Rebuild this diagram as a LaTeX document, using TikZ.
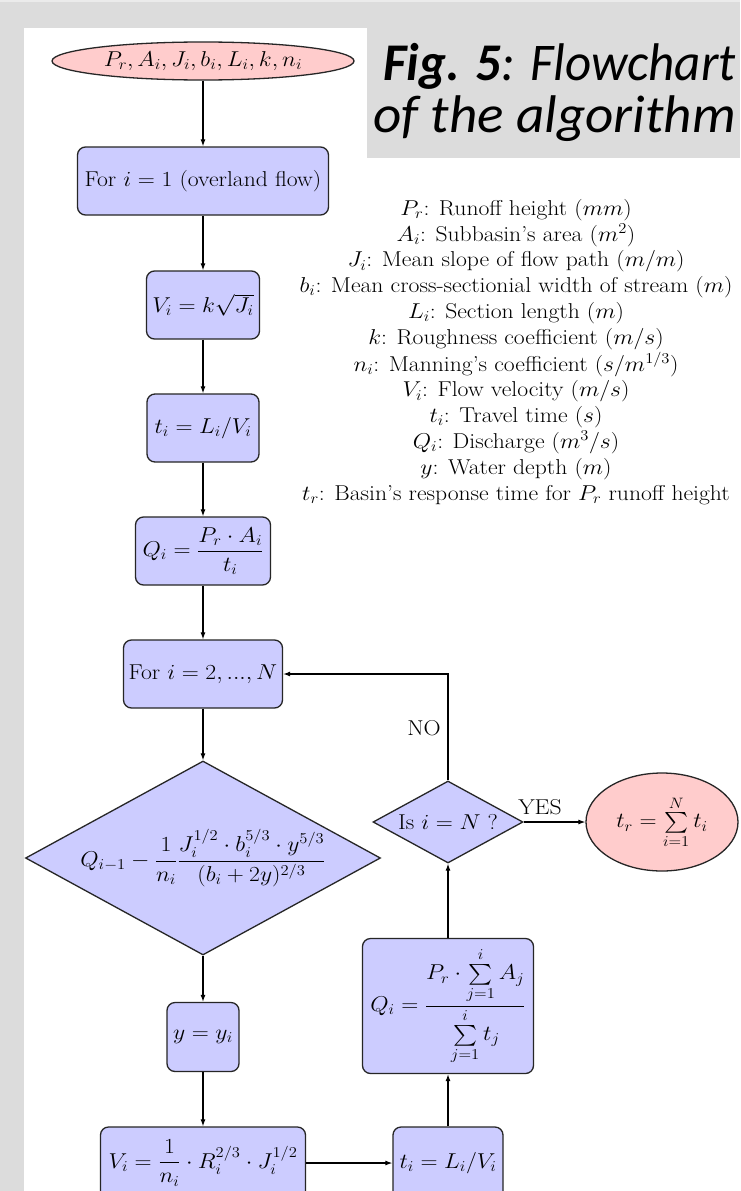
\documentclass[tikz,border=0pt]{standalone}
\usepackage{fix-cm}
\usepackage{amsmath}
\usepackage{fontspec}
\newfontfamily\calibri{Carlito}
\usetikzlibrary{shapes.geometric,arrows.meta}
\definecolor{bggrey}{HTML}{DCDCDC}
\definecolor{topgrey}{HTML}{EBEBEB}
\definecolor{boxblue}{HTML}{CCCCFF}
\definecolor{boxpink}{HTML}{FFCCCC}
\newcommand{\hx}[1]{\scalebox{1.1}[1]{#1}}
\begin{document}
\begin{tikzpicture}[x=1pt,y=-1pt,
  every node/.style={font=\fontsize{21.5}{25.8}\selectfont},
  procbox/.style={draw=black!85, line width=1.3pt, fill=boxblue, rounded corners=8pt, inner sep=2pt, align=center},
  termshape/.style={draw=black!85, line width=1.3pt, fill=boxpink, ellipse, inner sep=0pt},
  decshape/.style={draw=black!85, line width=1.3pt, fill=boxblue, diamond, inner sep=0pt},
  flow/.style={-{Latex[length=7pt,width=5pt]}, line width=1.1pt},
  titlefont/.style={font=\calibri\fontsize{53}{56}\selectfont},
]
\useasboundingbox (0,0) rectangle (740,1191);
\clip (0,0) rectangle (740,1191);
\fill[bggrey] (0,0) rectangle (740,1191);
\fill[topgrey] (0,0) rectangle (740,2);
\fill[white] (24,28) rectangle (740,1191);
\fill[bggrey] (367,2) rectangle (740,158);

% title
\node[titlefont, anchor=base east, inner sep=0pt] (title1) at (736,80) {\scalebox{0.962}[1]{\textbf{\textit{Fig. 5}}\textit{: Flowchart}}};
\node[titlefont, anchor=base east, inner sep=0pt] (title2) at (736,132) {\scalebox{1.04}[1]{\textit{of the algorithm}}};

% legend
\node[anchor=north, inner sep=0pt] (legend) at (516,197) {\hx{\begin{tabular}{@{}c@{}}
$P_r$: Runoff height ($mm$)\\
$A_i$: Subbasin's area ($m^2$)\\
$J_i$: Mean slope of flow path ($m/m$)\\
$b_i$: Mean cross-sectionial width of stream ($m$)\\
$L_i$: Section length ($m$)\\
$k$: Roughness coefficient ($m/s$)\\
$n_i$: Manning's coefficient ($s/m^{1/3}$)\\
$V_i$: Flow velocity ($m/s$)\\
$t_i$: Travel time ($s$)\\
$Q_i$: Discharge ($m^3/s$)\\
$y$: Water depth ($m$)\\
$t_r$: Basin's response time for $P_r$ runoff height
\end{tabular}}};

% main column
\node[termshape, minimum width=302pt, minimum height=38pt] (start) at (203,61) {};
\node (starttext) at (start.center) {\hx{$P_r, A_i, J_i, b_i, L_i, k, n_i$}};
\node[procbox, minimum width=251pt, minimum height=68pt] (for1) at (203,181) {\hx{For $i = 1$ (overland flow)}};
\node[procbox, minimum width=113pt, minimum height=68pt] (v1) at (203,305) {\hx{$V_i = k\sqrt{J_i}$}};
\node[procbox, minimum width=112pt, minimum height=68pt] (t1) at (203,428) {\hx{$t_i = L_i/V_i$}};
\node[procbox, minimum width=135pt, minimum height=68pt] (q1) at (203,551) {\hx{$Q_i = \dfrac{P_r\cdot A_i}{t_i}$}};
\node[procbox, minimum width=159pt, minimum height=68pt] (for2) at (203,674) {\hx{For $i = 2, ..., N$}};
\node[decshape, minimum width=355pt, minimum height=194pt] (dec1) at (203,858) {};
\node (dec1text) at (dec1.center) {\hx{$Q_{i-1} - \dfrac{1}{n_i}\dfrac{J_i^{1/2}\cdot b_i^{5/3}\cdot y^{5/3}}{(b_i+2y)^{2/3}}$}};
\node[procbox, minimum width=72pt, minimum height=69pt] (ybox) at (203,1037) {\hx{$y = y_i$}};
\node[procbox, minimum width=205pt, minimum height=72pt] (v2) at (203,1163) {\hx{$V_i = \dfrac{1}{n_i}\cdot R_i^{2/3}\cdot J_i^{1/2}$}};

% right column
\node[procbox, minimum width=110pt, minimum height=72pt] (t2) at (448,1163) {\hx{$t_i = L_i/V_i$}};
\node[procbox, minimum width=171pt, minimum height=135pt] (q2) at (448,1006) {\hx{$Q_i = \dfrac{P_r\cdot\sum\limits_{j=1}^{i} A_j}{\sum\limits_{j=1}^{i} t_j}$}};
\node[decshape, minimum width=150pt, minimum height=82pt] (dec2) at (448,822) {};
\node (dec2text) at (dec2.center) {\hx{Is $i = N$ ?}};
\node[termshape, minimum width=152pt, minimum height=98pt] (stop) at (662,822) {};
\node (stoptext) at (stop.center) {\hx{$t_r = \sum\limits_{i=1}^{N} t_i$}};

% connectors
\draw[flow] (start) -- (for1);
\draw[flow] (for1) -- (v1);
\draw[flow] (v1) -- (t1);
\draw[flow] (t1) -- (q1);
\draw[flow] (q1) -- (for2);
\draw[flow] (for2) -- (dec1);
\draw[flow] (dec1) -- (ybox);
\draw[flow] (ybox) -- (v2);
\draw[flow] (v2) -- (t2);
\draw[flow] (t2) -- (q2);
\draw[flow] (q2) -- (dec2);
\draw[flow] (dec2) -- (stop);
\draw[flow] (dec2.north) |- (for2.east);

\node (yes) at (540,807) {\hx{YES}};
\node (no) at (424,728) {\hx{NO}};
\end{tikzpicture}
\end{document}
